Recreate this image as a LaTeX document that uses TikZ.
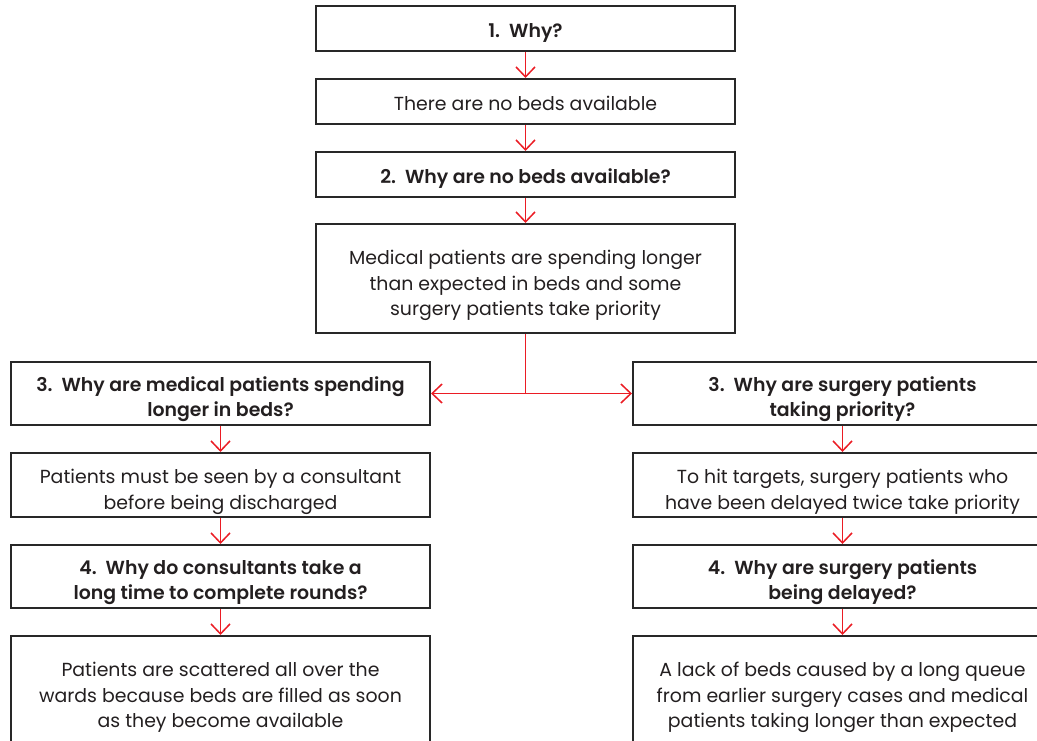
\documentclass[tikz,border=0pt]{standalone}
\usepackage{fontspec}
\setmainfont{Poppins}[BoldFont={Poppins SemiBold}]
\usetikzlibrary{arrows.meta}
\definecolor{arrred}{RGB}{235,28,36}
\definecolor{boxline}{RGB}{40,40,40}
\definecolor{txt}{RGB}{35,31,32}
\newcommand\boxtext[2][13pt]{\raisebox{0pt}[\dimexpr\height+#1\relax][\depth]{\begin{tabular}{@{}c@{}}#2\end{tabular}}}
\begin{document}
\begin{tikzpicture}[x=1pt,y=-1pt,
  box/.style={draw=boxline,line width=2pt,inner sep=0pt,minimum width=419pt,text=txt,font=\fontsize{18.9}{25.5}\selectfont},
  qbox/.style={box,font=\fontsize{18.9}{25.5}\selectfont\bfseries},
  arr/.style={draw=arrred,line width=1.5pt,-{Straight Barb[length=10pt,width=19pt,line width=1.5pt]}}]
\useasboundingbox (0,0) rectangle (1037,740);
\node[qbox,minimum height=45pt] (n1) at (525.5,28.5) {\boxtext[7pt]{1.~~Why?}};
\node[box,minimum height=45pt] (n2) at (525.5,101.5) {\boxtext[8pt]{There are no beds available}};
\node[qbox,minimum height=45pt] (n3) at (525.5,174.5) {\boxtext[7pt]{2.~~Why are no beds available?}};
\node[box,minimum height=109pt] (n4) at (525.5,278.5) {\boxtext{Medical patients are spending longer\\than expected in beds and some\\surgery patients take priority}};
\node[qbox,minimum height=63pt] (l1) at (220.5,393.5) {\boxtext[11pt]{3.~~Why are medical patients spending\\longer in beds?}};
\node[qbox,minimum height=63pt] (r1) at (842.5,393.5) {\boxtext[11pt]{3.~~Why are surgery patients\\taking priority?}};
\node[box,minimum height=64pt] (l2) at (220.5,485) {\boxtext{Patients must be seen by a consultant\\before being discharged}};
\node[box,minimum height=64pt] (r2) at (842.5,485) {\boxtext{To hit targets, surgery patients who\\have been delayed twice take priority}};
\node[qbox,minimum height=63pt] (l3) at (220.5,576.5) {\boxtext[11pt]{4.~~Why do consultants take a\\long time to complete rounds?}};
\node[qbox,minimum height=63pt] (r3) at (842.5,576.5) {\boxtext[11pt]{4.~~Why are surgery patients\\being delayed?}};
\node[box,minimum height=109pt] (l4) at (220.5,690.5) {\boxtext{Patients are scattered all over the\\wards because beds are filled as soon\\as they become available}};
\node[box,minimum height=109pt] (r4) at (842.5,690.5) {\boxtext{A lack of beds caused by a long queue\\from earlier surgery cases and medical\\patients taking longer than expected}};
\draw[arr] (n1) -- (n2);
\draw[arr] (n2) -- (n3);
\draw[arr] (n3) -- (n4);
\draw[arr] (n4.south) |- (l1.east);
\draw[arr] (n4.south) |- (r1.west);
\draw[arr] (l1) -- (l2);
\draw[arr] (l2) -- (l3);
\draw[arr] (l3) -- (l4);
\draw[arr] (r1) -- (r2);
\draw[arr] (r2) -- (r3);
\draw[arr] (r3) -- (r4);
\end{tikzpicture}
\end{document}
